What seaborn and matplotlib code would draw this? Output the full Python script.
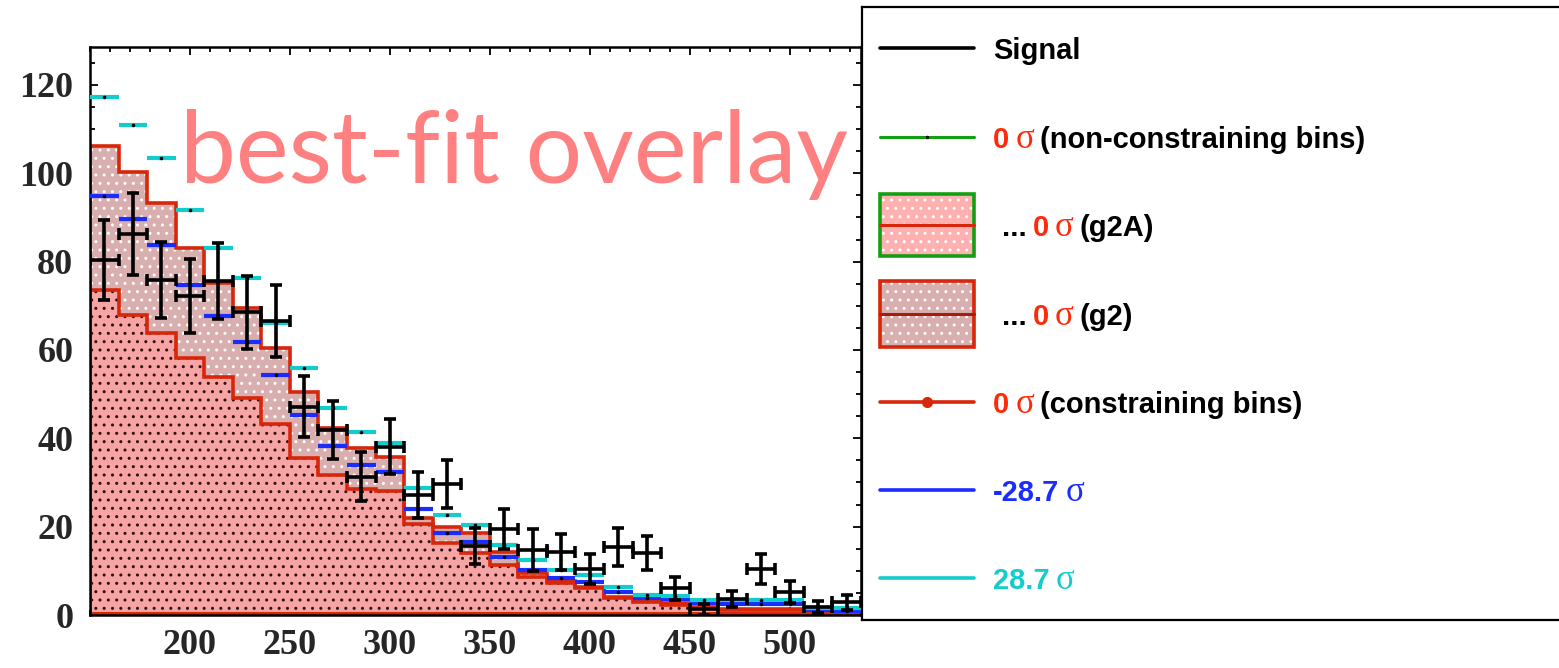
import numpy as np
import pandas as pd
import matplotlib.pyplot as plt
from matplotlib.patches import Rectangle
from matplotlib.ticker import MultipleLocator
import seaborn as sns

# binning: 27 visible bins of width 100/7 starting at 150
bin_lo = 150.0
bin_w = 100.0 / 7
n_bins = 27

# observed signal with errors
signal = [80.4, 86.3, 75.8, 72.2, 75.6, 68.5, 66.6, 47.1, 41.9, 31.3, 38.1, 27.2, 29.7,
          15.6, 19.4, 14.7, 14.3, 10.4, 15.4, 14.0, 6.1, 1.3, 3.6, 10.4, 5.2, 1.8, 2.9]
signal_err = [9.0, 9.3, 8.6, 8.4, 8.6, 8.2, 8.1, 6.9, 6.5, 5.6, 6.2, 5.2, 5.5,
              4.0, 4.5, 4.8, 4.0, 3.3, 4.2, 3.9, 2.6, 1.2, 1.9, 3.3, 2.5, 1.4, 1.7]

# -28.7 sigma and +28.7 sigma templates
sig_minus = [94.9, 89.6, 83.8, 74.7, 67.7, 61.8, 54.3, 45.3, 38.3, 34.0, 32.4, 24.0, 18.6,
             16.6, 13.2, 10.2, 8.3, 7.4, 5.3, 3.8, 3.6, 2.7, 2.6, 2.6, 2.6, 1.2, 1.0]
sig_plus = [117.3, 110.9, 103.5, 91.7, 83.1, 76.3, 66.0, 55.9, 46.9, 41.4, 38.9, 28.7, 22.6,
            20.4, 15.8, 12.5, 10.2, 9.0, 6.4, 4.5, 4.3, 3.5, 3.4, 3.4, 3.4, 1.6, 1.6]

# 0 sigma histograms (g2 behind, g2A in front)
g2_hist = [106.2, 100.3, 93.3, 83.1, 75.2, 69.5, 60.4, 50.5, 42.3, 37.8, 35.8, 22.0, 20.0,
           18.5, 14.3, 9.5, 7.8, 6.4, 4.1, 3.4, 2.7, 1.9, 1.4, 1.4, 1.4, 0.8, 0.8]
g2a_hist = [73.6, 67.9, 63.8, 58.2, 53.9, 49.1, 43.2, 35.5, 31.7, 28.5, 28.0, 20.5, 16.3,
            14.0, 11.3, 8.6, 7.2, 6.0, 3.8, 3.0, 2.3, 1.6, 1.1, 1.1, 1.1, 0.6, 0.6]

x_ticks = [200, 250, 300, 350, 400, 450, 500]
y_ticks = [0, 20, 40, 60, 80, 100, 120]
y_max = 128.6

overlay_text = "best-fit overlay"

RED_TXT = "#ff2a0a"
HIST_RED = "#d8260a"
BLUE = "#1a2cff"
CYAN = "#14cccc"
GREEN = "#12a012"
OUTER_FACE = "#d9aeae"
INNER_FACE = "#f7a4a4"

legend_entries = [
    [("Signal", "black", True)],
    [("0", RED_TXT, True), ("σ", RED_TXT, False), ("(non-constraining bins)", "black", True)],
    [("...", "black", True), ("0", RED_TXT, True), ("σ", RED_TXT, False), ("(g2A)", "black", True)],
    [("...", "black", True), ("0", RED_TXT, True), ("σ", RED_TXT, False), ("(g2)", "black", True)],
    [("0", RED_TXT, True), ("σ", RED_TXT, False), ("(constraining bins)", "black", True)],
    [("-28.7", BLUE, True), ("σ", BLUE, False)],
    [("28.7", CYAN, True), ("σ", CYAN, False)],
]

sns.set_style("ticks")
plt.rcParams["font.family"] = ["Liberation Sans", "DejaVu Sans"]
plt.rcParams["hatch.linewidth"] = 1.0

W, H = 1559, 668
edges = bin_lo + bin_w * np.arange(n_bins + 1)
centers = edges[:-1] + bin_w / 2
hist_df = pd.DataFrame({"mass": centers, "g2": g2_hist, "g2A": g2a_hist})

fig = plt.figure(figsize=(W / 100, H / 100), dpi=100)
ax = fig.add_axes([90 / W, 1 - 615 / H, (861 - 90) / W, (615 - 47) / H])

# filled histograms through seaborn, then restyled ROOT-like
sns.histplot(data=hist_df, x="mass", weights="g2", bins=edges.tolist(), element="step",
             fill=True, ax=ax)
outer = ax.collections[-1]
outer.set_alpha(1.0)
outer.set_facecolor(OUTER_FACE)
outer.set_edgecolor("white")
outer.set_linewidth(0)
outer.set_hatch("..")

sns.histplot(data=hist_df, x="mass", weights="g2A", bins=edges.tolist(), element="step",
             fill=True, ax=ax)
inner = ax.collections[-1]
inner.set_alpha(1.0)
inner.set_facecolor(INNER_FACE)
inner.set_edgecolor("#301010")
inner.set_linewidth(0)
inner.set_hatch("..")

ax.stairs(g2_hist, edges, baseline=0, color=HIST_RED, lw=2.6, zorder=3)
ax.stairs(g2a_hist, edges, baseline=0, color=HIST_RED, lw=2.6, zorder=3)
ax.axhline(0, color=HIST_RED, lw=5, zorder=3)

# +-28.7 sigma as bin-wide dashes with a small centre dot
for vals, col in [(sig_minus, BLUE), (sig_plus, CYAN)]:
    ax.errorbar(centers, vals, xerr=bin_w / 2, fmt="none", ecolor=col, elinewidth=3.0, zorder=4)
    ax.plot(centers, vals, ls="none", marker="o", ms=1.6, color="black", zorder=4)

# signal points
ax.errorbar(centers, signal, xerr=bin_w / 2, yerr=signal_err, fmt="none", ecolor="black",
            elinewidth=2.6, capsize=4.5, capthick=2.6, zorder=5)

ax.set_xlim(edges[0], edges[-1])
ax.set_ylim(0, y_max)
ax.set_xlabel("")
ax.set_ylabel("")
ax.set_xticks(x_ticks)
ax.set_yticks(y_ticks)
ax.xaxis.set_minor_locator(MultipleLocator(10))
ax.yaxis.set_minor_locator(MultipleLocator(5))
ax.tick_params(which="both", direction="in", top=True, right=True, width=1.3, color="black")
ax.tick_params(which="major", length=6)
ax.tick_params(which="minor", length=3.5)
ax.tick_params(axis="x", pad=10)
ax.tick_params(axis="y", pad=12)
for lab in ax.get_xticklabels() + ax.get_yticklabels():
    lab.set_fontfamily(["Liberation Serif", "DejaVu Serif"])
    lab.set_fontweight("bold")
    lab.set_fontsize(26)
for sp in ax.spines.values():
    sp.set_linewidth(1.8)
    sp.set_color("black")
    sp.set_zorder(3.5)

# legend box drawn by hand (mixed-colour labels)
lax = fig.add_axes([862 / W, 1 - 620 / H, (1580 - 862) / W, (620 - 7) / H])
lax.set_xlim(862, 1580)
lax.set_ylim(620, 7)
lax.set_xticks([])
lax.set_yticks([])
lax.spines["right"].set_visible(False)
for sp in ["left", "top", "bottom"]:
    lax.spines[sp].set_linewidth(1.6)
    lax.spines[sp].set_color("black")

leg_y = [48, 137, 225, 314, 402, 490, 578]
hx0, hx1 = 880, 974
lax.plot([hx0, hx1], [leg_y[0]] * 2, color="black", lw=2.6)
lax.plot([hx0, hx1], [leg_y[1]] * 2, color=GREEN, lw=2.2)
lax.plot([(hx0 + hx1) / 2], [leg_y[1]], marker="o", ms=1.5, color="black")

lax.add_patch(Rectangle((hx0, leg_y[2] - 31), hx1 - hx0, 62, facecolor="#ffb0b0",
                        edgecolor="white", lw=0, hatch=".."))
lax.add_patch(Rectangle((hx0, leg_y[2] - 31), hx1 - hx0, 62, fill=False, edgecolor=GREEN, lw=2.6))
lax.plot([hx0, hx1], [leg_y[2]] * 2, color=HIST_RED, lw=2.2)

lax.add_patch(Rectangle((hx0, leg_y[3] - 33), hx1 - hx0, 66, facecolor=OUTER_FACE,
                        edgecolor="white", lw=0, hatch=".."))
lax.add_patch(Rectangle((hx0, leg_y[3] - 33), hx1 - hx0, 66, fill=False, edgecolor=HIST_RED, lw=2.6))
lax.plot([hx0, hx1], [leg_y[3]] * 2, color="#a81c0c", lw=2.2)

lax.plot([hx0, hx1], [leg_y[4]] * 2, color=HIST_RED, lw=2.6)
lax.plot([(hx0 + hx1) / 2], [leg_y[4]], marker="o", ms=7, color=HIST_RED)
lax.plot([hx0, hx1], [leg_y[5]] * 2, color=BLUE, lw=2.6)
lax.plot([hx0, hx1], [leg_y[6]] * 2, color=CYAN, lw=2.6)

renderer = fig.canvas.get_renderer()
LEG_SANS = ["Liberation Sans", "DejaVu Sans"]
for i, pieces in enumerate(legend_entries):
    x = 1002 if pieces[0][0] == "..." else 993
    for txt, col, bold in pieces:
        if bold:
            t = lax.text(x, leg_y[i] + 11, txt, color=col, fontweight="bold",
                         family=LEG_SANS, fontsize=21, va="baseline", ha="left")
        else:
            t = lax.text(x, leg_y[i] + 11, txt, color=col, fontweight="normal",
                         family=["Liberation Serif", "DejaVu Serif"], fontsize=25,
                         va="baseline", ha="left")
        x += t.get_window_extent(renderer).width + 6

fig.text(180 / W, 1 - 183 / H, overlay_text, family=["Lato", "DejaVu Sans"], fontsize=72,
         color="#ff8080", va="baseline", ha="left", zorder=10)

fig.savefig("out.png", dpi=100)
